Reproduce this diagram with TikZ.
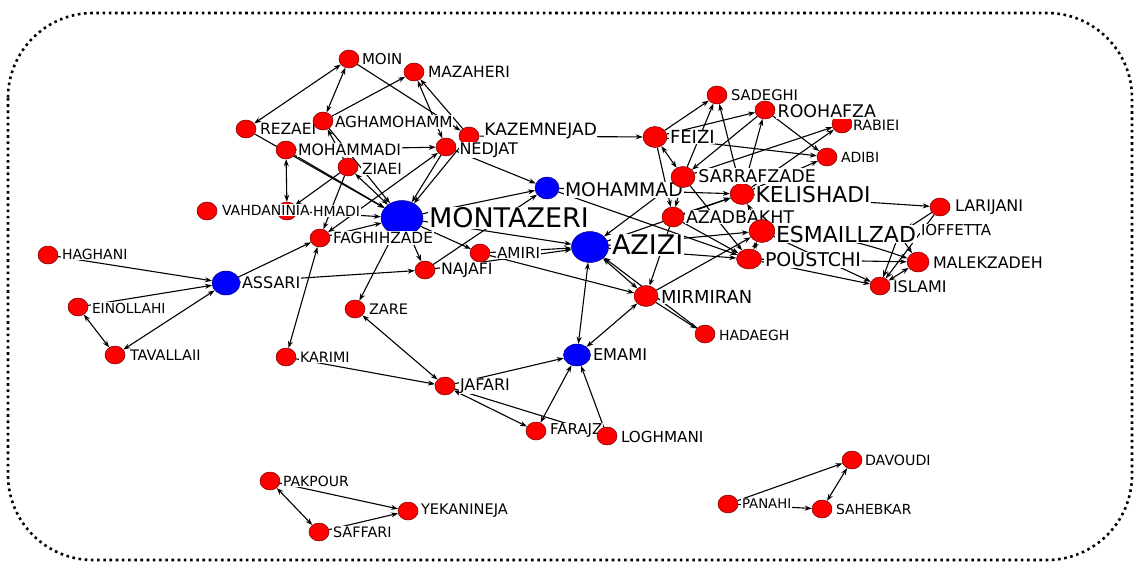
\documentclass[tikz,border=0pt]{standalone}
\usepackage{fontspec}
\setmainfont{DejaVu Sans}
\usetikzlibrary{shapes.geometric,arrows.meta}
\pgfdeclarelayer{edges}
\pgfsetlayers{edges,main}
\newcommand\fs[1]{\fontsize{#1}{#1}\selectfont}
\tikzset{
 rn/.style={ellipse, fill=red, draw=red!45!black, line width=0.5pt, minimum width=20pt, minimum height=18pt, inner sep=0pt},
 rnb/.style={rn, minimum width=24pt, minimum height=21pt},
 bn/.style={ellipse, fill=blue, draw=blue!50!black, line width=0.5pt, inner sep=0pt},
 lbl/.style={anchor=west, fill=white, inner sep=0.8pt, text=black},
 e/.style={line width=1.1pt, -{Stealth[length=7pt,width=5pt]}},
 ee/.style={line width=1.1pt, {Stealth[length=7pt,width=5pt]}-{Stealth[length=7pt,width=5pt]}},
 frame/.style={line width=2.6pt, dash pattern=on 2.6pt off 3.6pt, rounded corners=85pt}
}
\begin{document}
\begin{tikzpicture}[x=1pt,y=-1pt]
\useasboundingbox (0,0) rectangle (1136,565);
\draw[frame] (8,13) rectangle (1132,560);

% ---- nodes and labels ----
\node[rn] (moin) at (349,59) {};
\node[lbl,font=\fs{15}] (moinl) at (361,59) {MOIN};
\node[rn] (mazaheri) at (414,72) {};
\node[lbl,font=\fs{15.5}] (mazaheril) at (427,72) {MAZAHERI};
\node[rn] (rezaei) at (246,129) {};
\node[lbl,font=\fs{15.5}] (rezaeil) at (259,129) {REZAEI};
\node[rn] (agha) at (323,121) {};
\node[lbl,font=\fs{15.3}] (aghal) at (334,122) {AGHAMOHAMM};
\node[rn] (mohammadi) at (286,150) {};
\node[lbl,font=\fs{15.7}] (mohammadil) at (297,150) {MOHAMMADI};
\node[rn] (ziaei) at (348,167) {};
\node[lbl,font=\fs{15.4}] (ziaeil) at (361,169) {ZIAEI};
\node[rn] (ahmadi) at (287,211) {};
\node[lbl,font=\fs{14}] (ahmadil) at (312,211) {HMADI};
\node[rn] (vahdan) at (207,211) {};
\node[lbl,font=\fs{14}] (vahdanl) at (221,210) {VAHDANINIA};
\node[rn] (kazem) at (469,136) {};
\node[lbl,font=\fs{17}, inner sep=0.2pt] (kazeml) at (484,131.5) {KAZEMNEJAD};
\node[rn] (nedjat) at (446,147) {};
\node[lbl,font=\fs{16}, inner sep=0.3pt] (nedjatl) at (459,150) {NEDJAT};
\node[bn, minimum width=42pt, minimum height=35pt] (montazeri) at (402,218) {};
\node[lbl,font=\fs{27}] (montazeril) at (428,218) {MONTAZERI};
\node[rn] (faghih) at (320,238) {};
\node[lbl,font=\fs{15.4}] (faghihl) at (332,238) {FAGHIHZADE};
\node[bn, minimum width=24pt, minimum height=22pt] (mohammad) at (547,188) {};
\node[lbl,font=\fs{18.8}] (mohammadl) at (564,190) {MOHAMMAD};
\node[rn] (amiri) at (480,253) {};
\node[lbl,font=\fs{15.2}] (amiril) at (496,253) {AMIRI};
\node[rn] (najafi) at (425,270) {};
\node[lbl,font=\fs{15.8}] (najafil) at (440,270) {NAJAFI};
\node[bn, minimum width=37pt, minimum height=31pt] (azizi) at (590,247) {};
\node[lbl,font=\fs{27}] (azizil) at (611,245) {AZIZI};
\node[bn, minimum width=28pt, minimum height=24pt] (assari) at (226,283) {};
\node[lbl,font=\fs{16}] (assaril) at (241,283) {ASSARI};
\node[rn] (haghani) at (48,255) {};
\node[lbl,font=\fs{14}] (haghanil) at (61,254) {HAGHANI};
\node[rn] (einollahi) at (78,307) {};
\node[lbl,font=\fs{13.8}] (einollahil) at (91,308) {EINOLLAHI};
\node[rn] (tavallaii) at (115,355) {};
\node[lbl,font=\fs{14.5}] (tavallaiil) at (129,355) {TAVALLAII};
\node[rn] (zare) at (355,309) {};
\node[lbl,font=\fs{14.5}] (zarel) at (368,309) {ZARE};
\node[rn] (karimi) at (286,357) {};
\node[lbl,font=\fs{14.3}] (karimil) at (299,357) {KARIMI};
\node[rn] (jafari) at (445,386) {};
\node[lbl,font=\fs{16}] (jafaril) at (459,386) {JAFARI};
\node[bn, minimum width=27pt, minimum height=22pt] (emami) at (577,355) {};
\node[lbl,font=\fs{16.2}] (emamil) at (592,355) {EMAMI};
\node[rn] (faraj) at (536,431) {};
\node[lbl,font=\fs{15}] (farajl) at (549,431) {FARAJZ};
\node[rn] (loghmani) at (607,436) {};
\node[lbl,font=\fs{15.2}] (loghmanil) at (620,437) {LOGHMANI};
\node[rnb] (mirmiran) at (646,296) {};
\node[lbl,font=\fs{17.9}] (mirmiranl) at (660,297) {MIRMIRAN};
\node[rn] (hadaegh) at (705,334) {};
\node[lbl,font=\fs{14}] (hadaeghl) at (718,335) {HADAEGH};
\node[rnb] (feizi) at (655,137) {};
\node[lbl,font=\fs{18}] (feizil) at (669,137) {FEIZI};
\node[rn] (sadeghi) at (717,95) {};
\node[lbl,font=\fs{14.7}] (sadeghil) at (730,95) {SADEGHI};
\node[rn] (rabiei) at (842,124) {};
\node[lbl,font=\fs{14.3}] (rabieil) at (852,125) {RABIEI};
\node[rn] (roohafza) at (765,110) {};
\node[lbl,font=\fs{17.4}, inner sep=1.5pt] (roohafzal) at (776,111) {ROOHAFZA};
\node[rn] (adibi) at (827,157) {};
\node[lbl,font=\fs{14}] (adibil) at (840,157) {ADIBI};
\node[rnb] (kelish) at (742,194) {};
\node[lbl,font=\fs{21.8}, inner sep=0.3pt] (kelishl) at (755,195) {KELISHADI};
\node[rnb] (sarraf) at (683,177) {};
\node[lbl,font=\fs{17.5}, inner sep=1.2pt] (sarrafl) at (697,176) {SARRAFZADE};
\node[rnb, minimum width=22pt, minimum height=20pt] (azadb) at (673,217) {};
\node[lbl,font=\fs{17.4}] (azadbl) at (685,217) {AZADBAKHT};
\node[rn, minimum height=16pt] (moffetta) at (899,234) {};
\node[lbl,font=\fs{15}] (moffettal) at (920,230) {IOFFETTA};
\node[rnb, minimum width=26pt, minimum height=23pt] (esmail) at (762,231) {};
\node[lbl,font=\fs{22}] (esmaill) at (775,234) {ESMAILLZAD};
\node[rnb, minimum width=25pt, minimum height=20pt] (poust) at (749,259) {};
\node[lbl,font=\fs{19}] (poustl) at (764,260) {POUSTCHI};
\node[rn] (larijani) at (940,207) {};
\node[lbl,font=\fs{16}] (larijanil) at (954,207) {LARIJANI};
\node[rn, minimum width=22pt, minimum height=20pt] (malek) at (918,262) {};
\node[lbl,font=\fs{15.9}] (malekl) at (932,263) {MALEKZADEH};
\node[rn] (islami) at (880,286) {};
\node[lbl,font=\fs{16}] (islamil) at (892,287) {ISLAMI};
\node[rn] (pakpour) at (270,481) {};
\node[lbl,font=\fs{14}] (pakpourl) at (282,481) {PAKPOUR};
\node[rn] (saffari) at (319,532) {};
\node[lbl,font=\fs{14.4}] (saffaril) at (332,532) {SAFFARI};
\node[rn] (yekan) at (408,511) {};
\node[lbl,font=\fs{14.6}] (yekanl) at (420,511) {YEKANINEJA};
\node[rn] (davoudi) at (852,460) {};
\node[lbl,font=\fs{14.2}] (davoudil) at (864,460) {DAVOUDI};
\node[rn] (panahi) at (728,504) {};
\node[lbl,font=\fs{13.3}] (panahil) at (741,504) {PANAHI};
\node[rn] (sahebkar) at (822,509) {};
\node[lbl,font=\fs{13.9}] (sahebkarl) at (835,509) {SAHEBKAR};

% ---- edges ----
\begin{pgfonlayer}{edges}
\draw[ee] (rezaei) -- (moin);
\draw[ee] (moin) -- (agha);
\draw[e] (moin) -- (kazem);
\draw[ee] (nedjat) -- (mazaheri);
\draw[e] (kazem) -- (mazaheri);
\draw[e] (agha) -- (mazaheri);
\draw[e] (ziaei) -- (agha);
\draw[e] (rezaei) -- (montazeri);
\draw[e] (mohammadi) -- (montazeri);
\draw[e] (mohammadi) -- (nedjat);
\draw[ee] (mohammadi) -- (ahmadi);
\draw[ee] (ziaei) -- (montazeri);
\draw[e] (agha) -- (montazeri);
\draw[e] (ziaei) -- (ahmadi);
\draw[e] (ziaei) -- (faghih);
\draw[e] (nedjat) -- (montazeri);
\draw[e] (kazem) -- (montazeri);
\draw[ee] (nedjat) -- (faghih);
\draw[e] (nedjat) -- (mohammad);
\draw[e] (ahmadi) -- (montazeri);
\draw[e] (faghih) -- (montazeri);
\draw[e] (montazeri) -- (zare);
\draw[e] (montazeri) -- (najafi);
\draw[e] (montazeri) -- (amiri);
\draw[e] (montazeri) -- (azizi);
\draw[e] (montazeri) -- (mohammad);
\draw[e] (najafi) -- (mohammad);
\draw[e] (amiri) -- (azizi);
\draw[e] (najafi) -- (azizi);
\draw[e] (amiri) -- (mirmiran);
\draw[e] (assari) -- (faghih);
\draw[e] (assari) -- (najafi);
\draw[e] (haghani) -- (assari);
\draw[e] (einollahi) -- (assari);
\draw[ee] (einollahi) -- (tavallaii);
\draw[ee] (tavallaii) -- (assari);
\draw[ee] (faghih) -- (karimi);
\draw[ee] (zare) -- (jafari);
\draw[e] (karimi) -- (jafari);
\draw[e] (jafari) -- (emami);
\draw[ee] (jafari) -- (faraj);
\draw[e] (jafari) -- (loghmani);
\draw[ee] (faraj) -- (emami);
\draw[e] (loghmani) -- (emami);
\draw[ee] (azizi) -- (emami);
\draw[ee] (mirmiran) -- (emami);
\draw[ee] (azizi) -- (mirmiran);
\draw[e] (hadaegh) -- (azizi);
\draw[e] (mirmiran) -- (hadaegh);
\draw[e] (azadb) -- (mirmiran);
\draw[e] (mirmiran) -- (esmail);
\draw[e] (mohammad) -- (poust);
\draw[e] (mohammad) -- (kelish);
\draw[e] (sarraf) -- (azizi);
\draw[e] (azizi) -- (esmail);
\draw[e] (azizi) -- (poust);
\draw[e] (azizi) -- (kelish);
\draw[e] (azadb) -- (kelish);
\draw[e] (kazem) -- (feizi);
\draw[e] (feizi) -- (sadeghi);
\draw[e] (feizi) -- (roohafza);
\draw[e] (feizi) -- (adibi);
\draw[ee] (feizi) -- (sarraf);
\draw[e] (sarraf) -- (sadeghi);
\draw[e] (kelish) -- (sadeghi);
\draw[e] (roohafza) -- (sarraf);
\draw[e] (kelish) -- (roohafza);
\draw[e] (roohafza) -- (adibi);
\draw[e] (sarraf) -- (rabiei);
\draw[e] (kelish) -- (rabiei);
\draw[e] (kelish) -- (adibi);
\draw[e] (sarraf) -- (azadb);
\draw[e] (feizi) -- (azadb);
\draw[e] (sarraf) -- (poust);
\draw[e] (azadb) -- (poust);
\draw[ee] (esmail) -- (poust);
\draw[ee] (kelish) -- (esmail);
\draw[e] (kelish) -- (larijani);
\draw[e] (larijani) -- (moffetta);
\draw[e] (moffetta) -- (malek);
\draw[e] (esmail) to[bend left=8] (malek);
\draw[e] (poust) -- (malek);
\draw[e] (poust) -- (islami);
\draw[e] (esmail) -- (islami);
\draw[ee] (islami) -- (malek);
\draw[e] (moffetta) -- (islami);
\draw[e] (larijani) -- (islami);
\draw[ee] (pakpour) -- (saffari);
\draw[e] (pakpour) -- (yekan);
\draw[e] (saffari) -- (yekan);
\draw[e] (panahi) -- (davoudi);
\draw[e] (panahi) -- (sahebkar);
\draw[ee] (davoudi) -- (sahebkar);
\end{pgfonlayer}
\end{tikzpicture}
\end{document}
